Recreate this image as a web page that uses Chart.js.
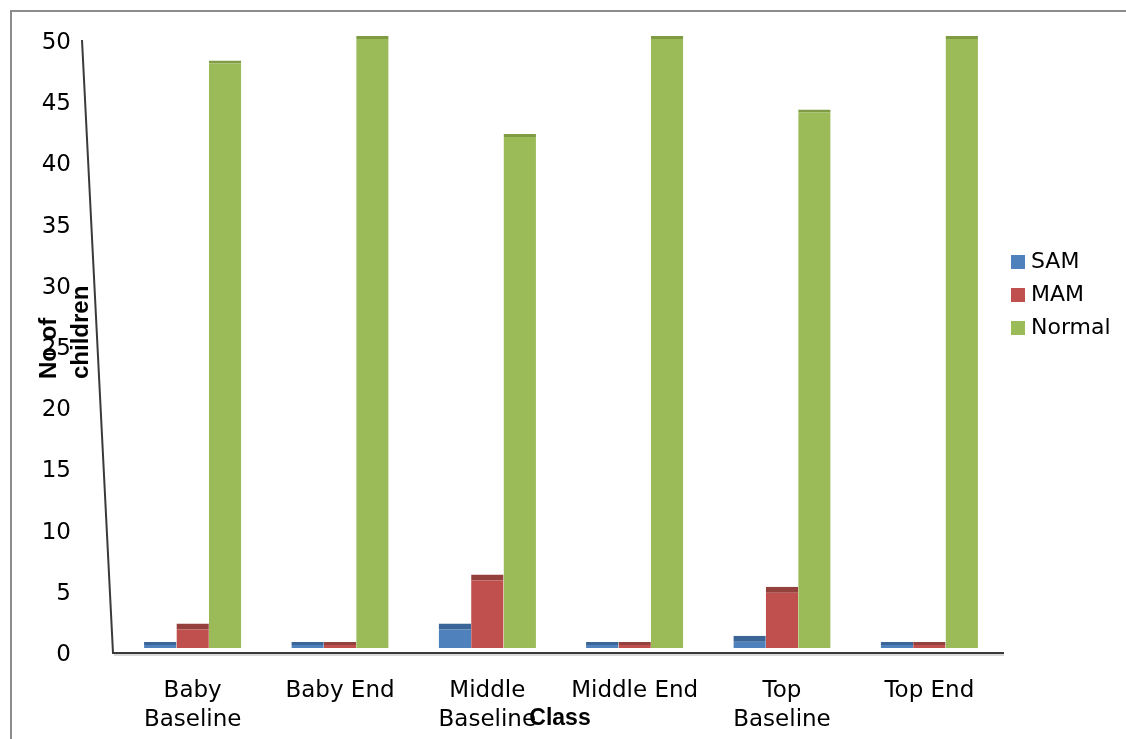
<!DOCTYPE html>
<html>
<head>
<meta charset="utf-8">
<script src="https://cdn.jsdelivr.net/npm/chart.js@4/dist/chart.umd.min.js"></script>
<style>
	html, body { margin: 0; padding: 0; background: #fff; overflow: hidden; }
	#wrap { position: relative; width: 1126px; height: 739px; }
	#frame { position: absolute; left: 10px; top: 10px; width: 1200px; height: 800px; border: 2px solid #8c8c8c; }
	#legenda { position: absolute; left: 1011px; top: 244px; font: 22px "DejaVu Sans", sans-serif; color: #000; }
	#legenda div { height: 33px; line-height: 33px; white-space: nowrap; }
	#legenda span { display: inline-block; width: 14px; height: 14px; margin-right: 6px; vertical-align: -1px; }
</style>
</head>
<body>
<div id="wrap">
	<div id="frame"></div>
	<canvas id="graficoClasses" width="1126" height="739"></canvas>
	<div id="legenda"></div>
</div>
<script>
var classes = [['Baby', 'Baseline'], 'Baby End', ['Middle', 'Baseline'], 'Middle End', ['Top', 'Baseline'], 'Top End'];
var sam = [0, 0, 2, 0, 1, 0];
var mam = [2, 0, 6, 0, 5, 0];
var normal = [48, 50, 42, 50, 44, 50];
var ticksY = [0, 5, 10, 15, 20, 25, 30, 35, 40, 45, 50];

var series = [
	{ nome: 'SAM', valores: sam, cor: '#4F81BD', topo: '#3A6596', borda: 6 },
	{ nome: 'MAM', valores: mam, cor: '#C0504D', topo: '#94403D', borda: 6 },
	{ nome: 'Normal', valores: normal, cor: '#9BBB59', topo: '#7F9C45', borda: 3 }
];

// eixos inclinados e titulos, como no grafico 3D original
var eixosPlugin = {
	id: 'eixos',
	afterDraw: function(chart) {
		var ctx = chart.ctx;
		var area = chart.chartArea;
		ctx.save();
		ctx.strokeStyle = '#3a3a3a';
		ctx.lineWidth = 2;
		ctx.beginPath();
		ctx.moveTo(area.left - 37, area.top + 4);
		ctx.lineTo(area.left - 6, area.bottom + 5);
		ctx.lineTo(area.right + 1, area.bottom + 5);
		ctx.stroke();
		ctx.strokeStyle = 'rgba(0,0,0,0.15)';
		ctx.beginPath();
		ctx.moveTo(area.left - 5, area.bottom + 7);
		ctx.lineTo(area.right + 1, area.bottom + 7);
		ctx.stroke();

		ctx.fillStyle = '#000';
		ctx.font = 'bold 23px "Liberation Sans", Arial, sans-serif';
		ctx.textAlign = 'center';
		ctx.textBaseline = 'alphabetic';
		ctx.fillText('Class', 560, 725);

		ctx.translate(0, 379);
		ctx.rotate(-Math.PI / 2);
		ctx.textAlign = 'left';
		ctx.font = 'bold 24px "Liberation Sans", Arial, sans-serif';
		ctx.fillText('No of', 0, 56);
		ctx.fillText('children', 0, 88);
		ctx.restore();
	}
};

var graficoClasses = new Chart(document.getElementById('graficoClasses').getContext('2d'), {
	type: 'bar',
	data: {
		labels: classes,
		datasets: series.map(function(s) {
			return {
				label: s.nome,
				data: s.valores,
				backgroundColor: s.cor,
				borderColor: s.topo,
				borderWidth: { top: s.borda, left: 0, right: 0, bottom: 0 },
				borderSkipped: false,
				minBarLength: 6,
				categoryPercentage: 0.66,
				barPercentage: 1
			};
		})
	},
	options: {
		responsive: false,
		animation: false,
		layout: { padding: { top: 36, right: 123, left: 0, bottom: 0 } },
		plugins: {
			legend: { display: false },
			tooltip: { enabled: false }
		},
		scales: {
			x: {
				grid: { display: false, drawTicks: false },
				border: { display: false },
				ticks: {
					color: '#000',
					padding: 28,
					autoSkip: false,
					maxRotation: 0,
					font: { family: '"DejaVu Sans", sans-serif', size: 23, lineHeight: 1.28 }
				},
				afterFit: function(scale) { scale.height = 91; }
			},
			y: {
				min: 0,
				max: 50,
				afterBuildTicks: function(scale) {
					scale.ticks = ticksY.map(function(v) { return { value: v }; });
				},
				grid: { display: false, drawTicks: false },
				border: { display: false },
				ticks: {
					color: '#000',
					padding: 48,
					labelOffset: 7,
					font: { family: '"DejaVu Sans", sans-serif', size: 23 }
				},
				afterFit: function(scale) {
					scale.width = 119;
					scale.paddingTop = 10;
					scale.paddingBottom = 10;
				}
			}
		}
	},
	plugins: [eixosPlugin]
});

var legenda = document.getElementById('legenda');
series.forEach(function(s) {
	var item = document.createElement('div');
	var caixa = document.createElement('span');
	caixa.style.background = s.cor;
	item.appendChild(caixa);
	item.appendChild(document.createTextNode(s.nome));
	legenda.appendChild(item);
});
</script>
</body>
</html>
